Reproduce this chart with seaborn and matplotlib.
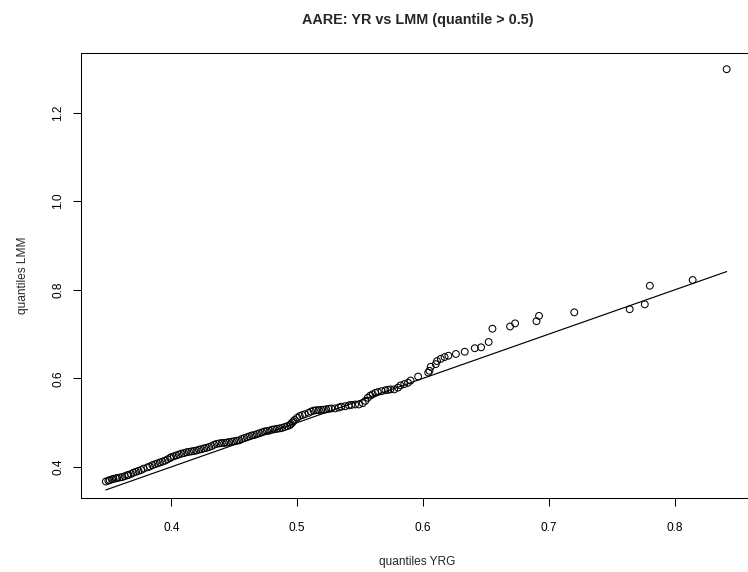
import matplotlib
matplotlib.use("Agg")
import matplotlib.pyplot as plt
import seaborn as sns
import pandas as pd
import numpy as np

# Quantiles
quantiles_yrg = [
    0.348, 0.350, 0.351, 0.353, 0.354, 0.356, 0.357, 0.359, 0.361, 0.363,
    0.365, 0.366, 0.368, 0.370, 0.372, 0.374, 0.376, 0.378, 0.381, 0.383,
    0.385, 0.387, 0.389, 0.391, 0.393, 0.395, 0.397, 0.399,
    0.400, 0.402, 0.404, 0.406, 0.408, 0.410, 0.412, 0.414, 0.416, 0.418,
    0.420, 0.422, 0.424, 0.426, 0.428, 0.430, 0.432, 0.434, 0.436, 0.438,
    0.440, 0.442, 0.444, 0.446, 0.448, 0.450, 0.452, 0.454, 0.456, 0.458,
    0.460, 0.462, 0.464, 0.466, 0.468, 0.470, 0.472, 0.474, 0.476, 0.478,
    0.480, 0.482, 0.484, 0.486, 0.488, 0.490, 0.492, 0.494, 0.495, 0.496,
    0.497, 0.498, 0.500, 0.502, 0.504, 0.506, 0.509, 0.511, 0.513, 0.515,
    0.517, 0.519, 0.521, 0.523, 0.525, 0.527, 0.530, 0.533, 0.535, 0.538,
    0.541, 0.543, 0.546, 0.549, 0.552, 0.554, 0.556, 0.558, 0.560, 0.562,
    0.564, 0.567, 0.570, 0.572, 0.574, 0.577, 0.580, 0.582, 0.585, 0.588,
    0.590, 0.596, 0.604, 0.605, 0.606, 0.610, 0.611, 0.614, 0.617, 0.620,
    0.626, 0.633, 0.641, 0.646, 0.652, 0.655, 0.669, 0.673, 0.690, 0.692,
    0.720, 0.764, 0.776, 0.780, 0.814, 0.841,
]
quantiles_lmm = [
    0.367, 0.369, 0.370, 0.372, 0.373, 0.374, 0.375, 0.376, 0.377, 0.379,
    0.381, 0.382, 0.384, 0.387, 0.389, 0.391, 0.393, 0.396, 0.399, 0.401,
    0.404, 0.406, 0.408, 0.410, 0.412, 0.414, 0.417, 0.420,
    0.422, 0.424, 0.426, 0.428, 0.430, 0.431, 0.433, 0.434, 0.435, 0.436,
    0.437, 0.439, 0.440, 0.442, 0.443, 0.445, 0.447, 0.450, 0.452, 0.453,
    0.454, 0.454, 0.455, 0.456, 0.457, 0.458, 0.459, 0.460, 0.463, 0.465,
    0.467, 0.469, 0.471, 0.472, 0.474, 0.476, 0.478, 0.480, 0.481, 0.482,
    0.484, 0.485, 0.486, 0.487, 0.488, 0.490, 0.492, 0.494, 0.497, 0.500,
    0.503, 0.506, 0.511, 0.515, 0.517, 0.519, 0.522, 0.525, 0.527, 0.528,
    0.528, 0.529, 0.529, 0.530, 0.531, 0.532, 0.532, 0.534, 0.536, 0.537,
    0.539, 0.540, 0.541, 0.541, 0.544, 0.549, 0.556, 0.561, 0.564, 0.567,
    0.569, 0.571, 0.573, 0.574, 0.575, 0.575, 0.579, 0.584, 0.587, 0.590,
    0.595, 0.604, 0.613, 0.617, 0.626, 0.632, 0.639, 0.644, 0.648, 0.651,
    0.655, 0.660, 0.668, 0.670, 0.682, 0.712, 0.717, 0.724, 0.729, 0.741,
    0.749, 0.756, 0.767, 0.809, 0.822, 1.298,
]
x_ticks = [0.4, 0.5, 0.6, 0.7, 0.8]
x_tick_labels = ["0.4", "0.5", "0.6", "0.7", "0.8"]
y_ticks = [0.4, 0.6, 0.8, 1.0, 1.2]
y_tick_labels = ["0.4", "0.6", "0.8", "1.0", "1.2"]

df = pd.DataFrame({"YRG": quantiles_yrg, "LMM": quantiles_lmm})

sns.set_style("white")
plt.rcParams["font.family"] = ["Liberation Sans", "DejaVu Sans"]

fig = plt.figure(figsize=(7.48, 5.72), dpi=100)
ax = fig.add_axes([81 / 748, 74 / 572, 673 / 748, 445.3 / 572])

sns.scatterplot(data=df, x="YRG", y="LMM", ax=ax, marker="o", s=24,
                facecolors="none", edgecolor="black", linewidth=0.75,
                legend=False)

lo, hi = min(quantiles_yrg), max(quantiles_yrg)
sns.lineplot(x=[lo, hi], y=[lo, hi], ax=ax, color="black", linewidth=0.85,
             estimator=None)

xr = max(quantiles_yrg) - min(quantiles_yrg)
yr = max(quantiles_lmm) - min(quantiles_lmm)
ax.set_xlim(min(quantiles_yrg) - 0.04 * xr, max(quantiles_yrg) + 0.04 * xr + 0.002)
ax.set_ylim(min(quantiles_lmm) - 0.04 * yr, max(quantiles_lmm) + 0.04 * yr)

ax.set_xticks(x_ticks)
ax.set_xticklabels(x_tick_labels)
ax.set_yticks(y_ticks)
ax.set_yticklabels(y_tick_labels, rotation=90, va="center")
ax.tick_params(axis="both", direction="out", length=6, width=0.75,
               colors="black", labelsize=8.6, bottom=True, left=True)
ax.tick_params(axis="x", pad=11)
ax.tick_params(axis="y", pad=6)

for sp in ax.spines.values():
    sp.set_visible(True)
    sp.set_color("black")
    sp.set_linewidth(0.75)

ax.set_xlabel("quantiles YRG", fontsize=8.6, labelpad=16)
ax.set_ylabel("quantiles LMM", fontsize=8.6, labelpad=17)
ax.set_title("AARE: YR vs LMM (quantile > 0.5)", fontsize=10.4,
             fontweight="bold", pad=21)

fig.savefig("out.png", dpi=100)
